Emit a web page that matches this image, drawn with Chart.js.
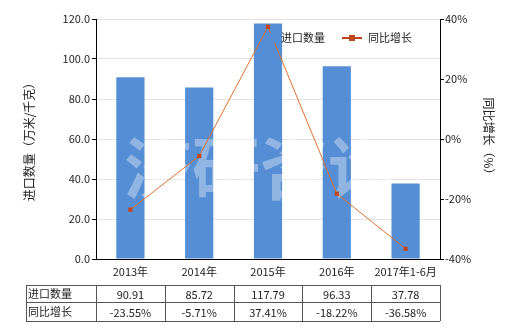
<!DOCTYPE html>
<html>
<head>
<meta charset="utf-8">
<script src="https://cdn.jsdelivr.net/npm/chart.js@4/dist/chart.umd.min.js"></script>
<style>
  html, body { margin: 0; padding: 0; background: #fff; }
  #box { width: 520px; height: 330px; position: relative; }
</style>
</head>
<body>
<div id="box"><canvas id="Import_Chart"></canvas></div>
<script>
// data
var years = ['2013年', '2014年', '2015年', '2016年', '2017年1-6月'];
var importQty = [90.91, 85.72, 117.79, 96.33, 37.78];
var growthPct = [-23.55, -5.71, 37.41, -18.22, -36.58];
var qtyLabels = ['90.91', '85.72', '117.79', '96.33', '37.78'];
var pctLabels = ['-23.55%', '-5.71%', '37.41%', '-18.22%', '-36.58%'];

var FONT = "'Noto Sans CJK SC', 'DejaVu Sans', sans-serif";

// watermark over the bars, under the line
var watermarkPlugin = {
    id: 'watermark',
    afterDatasetDraw: function(chart, args) {
        if (args.index !== 0) return;
        var ctx = chart.ctx;
        ctx.save();
        ctx.fillStyle = 'rgba(255,255,255,0.35)';
        ctx.font = 'bold 68px ' + FONT;
        ctx.textAlign = 'center';
        ctx.textBaseline = 'middle';
        ctx.fillText('济研咨询', 260, 168);
        ctx.restore();
    }
};

// legend + table drawn by hand
var extrasPlugin = {
    id: 'extras',
    afterDraw: function(chart) {
        var ctx = chart.ctx;
        var xs = chart.scales.x;
        ctx.save();

        // legend
        ctx.fillStyle = '#558ed5';
        ctx.fillRect(268, 33, 10, 10);
        ctx.font = '11px ' + FONT;
        ctx.fillStyle = '#222';
        ctx.textBaseline = 'middle';
        ctx.textAlign = 'left';
        ctx.fillText('进口数量', 281, 38);
        ctx.strokeStyle = '#c0461a';
        ctx.lineWidth = 2;
        ctx.beginPath();
        ctx.moveTo(342, 38);
        ctx.lineTo(362, 38);
        ctx.stroke();
        ctx.fillStyle = '#c0461a';
        ctx.fillRect(349, 35, 6, 6);
        ctx.fillStyle = '#222';
        ctx.fillText('同比增长', 368, 38);

        // table
        var step = xs.getPixelForValue(1) - xs.getPixelForValue(0);
        var left = 26;
        var colStart = xs.getPixelForValue(0) - step / 2;
        var right = colStart + step * years.length;
        var rows = [285, 302, 321];
        ctx.strokeStyle = '#555';
        ctx.lineWidth = 1;
        ctx.beginPath();
        rows.forEach(function(y) {
            ctx.moveTo(left, y + 0.5);
            ctx.lineTo(right, y + 0.5);
        });
        ctx.moveTo(left + 0.5, rows[0]);
        ctx.lineTo(left + 0.5, rows[2]);
        for (var i = 0; i <= years.length; i++) {
            var x = Math.round(colStart + step * i) + 0.5;
            ctx.moveTo(x, rows[0]);
            ctx.lineTo(x, rows[2]);
        }
        ctx.stroke();

        ctx.fillStyle = '#222';
        ctx.font = '11px ' + FONT;
        ctx.textAlign = 'left';
        ctx.fillText('进口数量', left + 2, (rows[0] + rows[1]) / 2);
        ctx.fillText('同比增长', left + 2, (rows[1] + rows[2]) / 2);
        ctx.textAlign = 'center';
        for (var j = 0; j < years.length; j++) {
            var cx = xs.getPixelForValue(j);
            ctx.fillText(qtyLabels[j], cx, (rows[0] + rows[1]) / 2 + 1);
            ctx.fillText(pctLabels[j], cx, (rows[1] + rows[2]) / 2 + 1);
        }
        ctx.restore();
    }
};

var Import_Chart = null;

function createImport_Chart() {
    var canvas = document.getElementById('Import_Chart');

    if (Import_Chart) {
        Import_Chart.destroy();
    }

    Import_Chart = new Chart(canvas, {
        type: 'bar',
        data: {
            labels: years,
            datasets: [
                {
                    type: 'bar',
                    label: '进口数量',
                    data: importQty,
                    backgroundColor: '#558ed5',
                    yAxisID: 'y',
                    barPercentage: 0.41,
                    categoryPercentage: 1.0,
                    order: 2
                },
                {
                    type: 'line',
                    label: '同比增长',
                    data: growthPct,
                    borderColor: '#e2702e',
                    borderWidth: 1,
                    backgroundColor: '#c0461a',
                    pointStyle: 'rect',
                    pointRadius: 3,
                    pointBorderWidth: 0,
                    pointBackgroundColor: '#c0461a',
                    tension: 0,
                    yAxisID: 'y1',
                    order: 1
                }
            ]
        },
        options: {
            responsive: false,
            animation: false,
            devicePixelRatio: 1,
            layout: {
                padding: { left: 0, right: 0, top: 19, bottom: 50 }
            },
            plugins: {
                legend: { display: false },
                tooltip: { enabled: false }
            },
            scales: {
                x: {
                    grid: {
                        display: false,
                        drawTicks: true,
                        tickLength: 4,
                        tickColor: '#000'
                    },
                    border: { color: '#000', width: 1 },
                    ticks: {
                        color: '#222',
                        padding: 2,
                        font: { family: FONT, size: 11 }
                    },
                    afterFit: function(scale) { scale.height = 21; }
                },
                y: {
                    position: 'left',
                    min: 0,
                    max: 120,
                    grid: {
                        color: '#e3e3e3',
                        tickLength: 4,
                        tickColor: '#000'
                    },
                    border: { color: '#000', width: 1 },
                    ticks: {
                        stepSize: 20,
                        color: '#222',
                        padding: 2,
                        font: { family: FONT, size: 11 },
                        callback: function(v) { return v.toFixed(1); }
                    },
                    title: {
                        display: true,
                        text: '进口数量（万米/千克）',
                        color: '#222',
                        font: { family: FONT, size: 12 },
                        padding: { top: 22, bottom: 0 }
                    },
                    afterFit: function(scale) { scale.width = 96; }
                },
                y1: {
                    position: 'right',
                    min: -40,
                    max: 40,
                    grid: {
                        drawOnChartArea: false,
                        tickLength: 4,
                        tickColor: '#000'
                    },
                    border: { color: '#000', width: 1 },
                    ticks: {
                        stepSize: 20,
                        color: '#222',
                        padding: 1,
                        font: { family: FONT, size: 11 },
                        callback: function(v) { return v + '%'; }
                    },
                    title: {
                        display: true,
                        text: '同比增长（%）',
                        color: '#222',
                        font: { family: FONT, size: 12 },
                        padding: { top: 24, bottom: 0 }
                    },
                    afterFit: function(scale) { scale.width = 80; }
                }
            }
        },
        plugins: [watermarkPlugin, extrasPlugin]
    });
}

document.addEventListener('DOMContentLoaded', function() {
    var c = document.getElementById('Import_Chart');
    c.width = 520;
    c.height = 330;
    c.style.width = '520px';
    c.style.height = '330px';
    createImport_Chart();
});
</script>
</body>
</html>
